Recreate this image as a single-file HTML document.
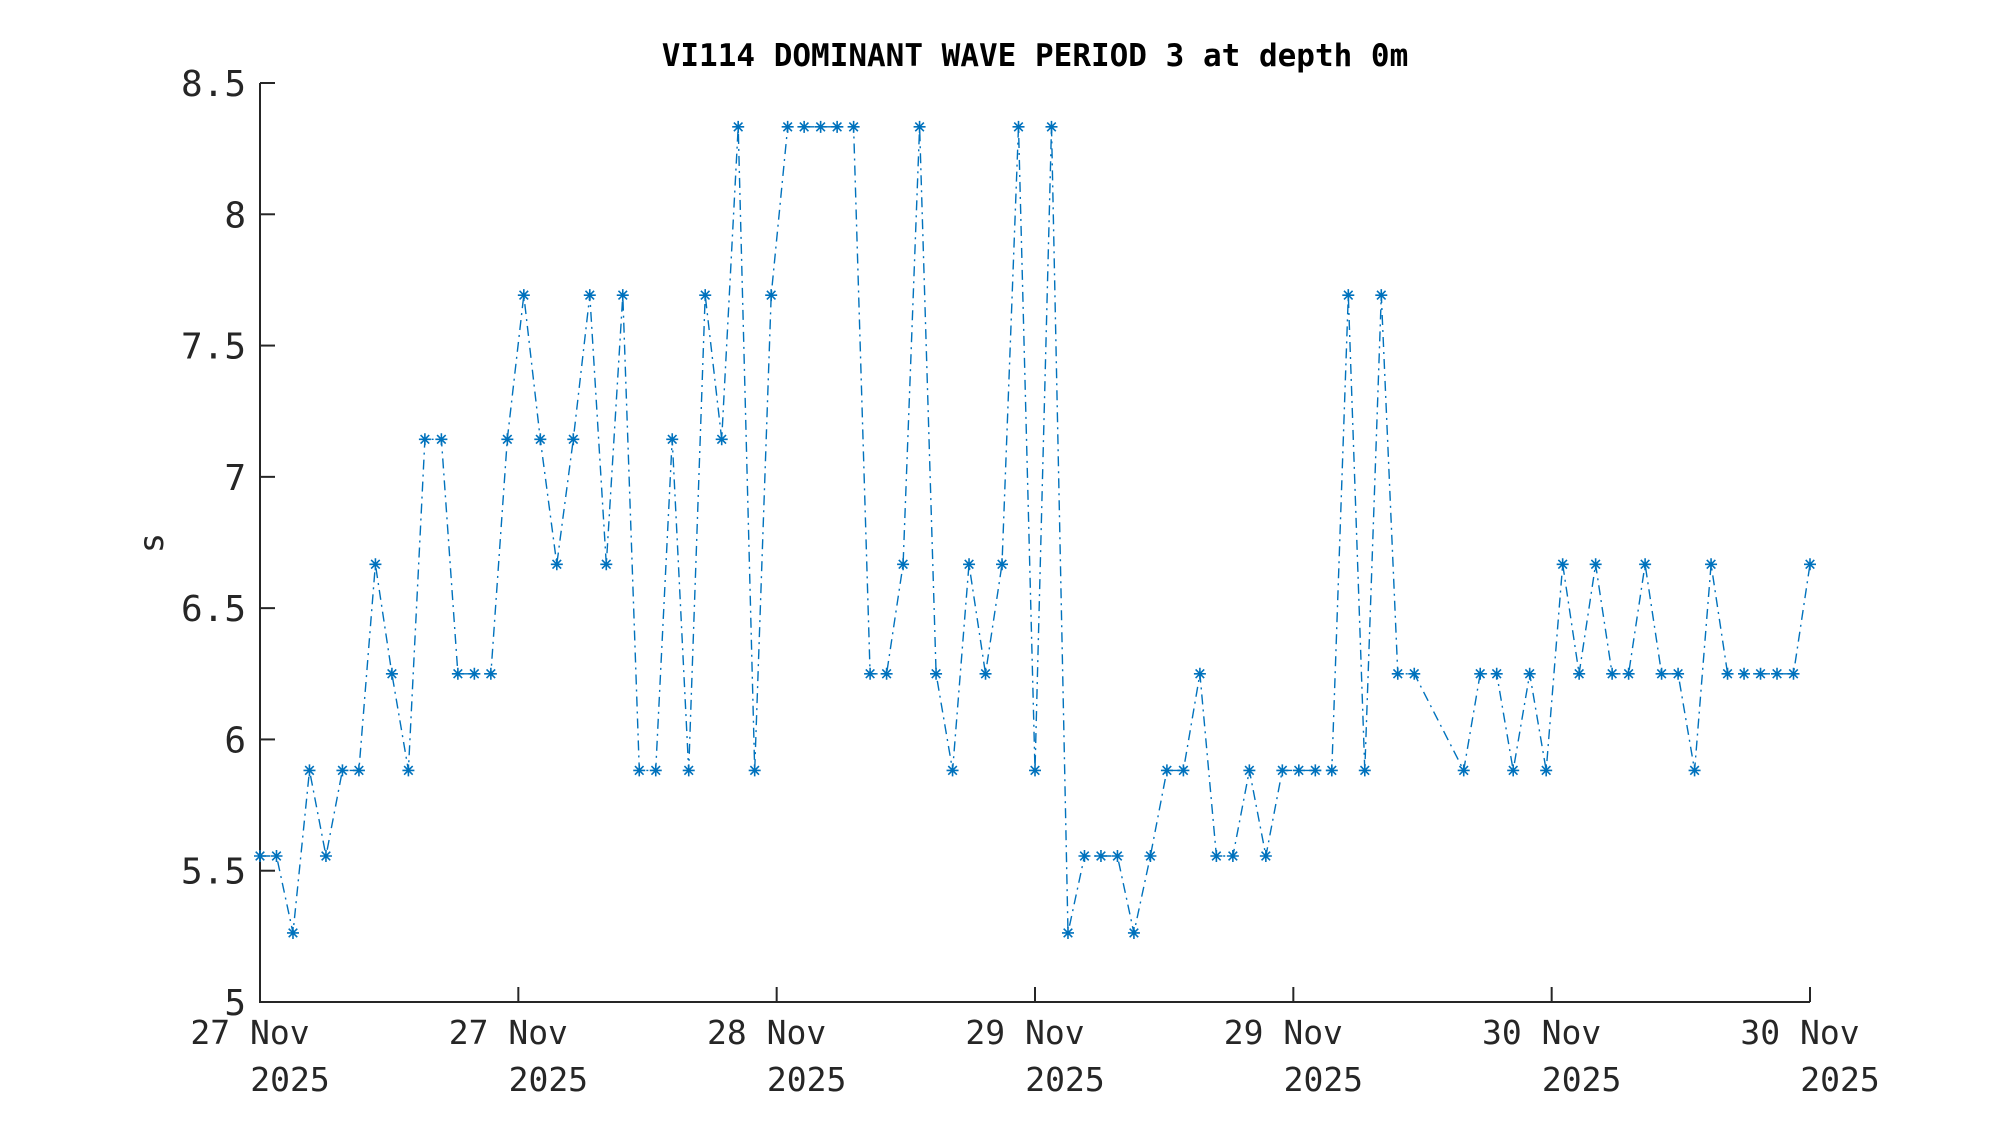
<!DOCTYPE html>
<html><head><meta charset="utf-8"><style>
html,body{margin:0;padding:0;background:#fff;}
svg{display:block;}
text{font-family:"DejaVu Sans Mono","Liberation Mono",monospace;fill:#262626;}
</style></head><body>
<svg id="s" width="2000" height="1125" viewBox="0 0 2000 1125" xmlns="http://www.w3.org/2000/svg">
<rect width="2000" height="1125" fill="#fff"/>
<text x="1035" y="66" text-anchor="middle" font-size="31" font-weight="bold" style="fill:#000">VI114 DOMINANT WAVE PERIOD 3 at depth 0m</text>
<text transform="translate(163,543) rotate(-90)" text-anchor="middle" font-size="34">s</text>
<g id="ax" stroke="#262626" stroke-width="2" fill="none"></g>
<g id="lab"></g>
<path id="ln" fill="none" stroke="#0072BD" stroke-width="1.4" stroke-dasharray="10,5,2,5"/>
<g id="mk" stroke="#0072BD" stroke-width="1.6"></g>
</svg>
<script>
var L=260,R=1810,T=83,B=1002;
function Y(v){return B-(v-5)/3.5*(B-T);}
var ns="http://www.w3.org/2000/svg";
var ax=document.getElementById('ax'),lab=document.getElementById('lab');
function el(p,t,a){var e=document.createElementNS(ns,t);for(var k in a)e.setAttribute(k,a[k]);p.appendChild(e);return e;}
el(ax,'path',{d:'M'+L+' '+T+'V'+B+'H'+R});
for(var v=5;v<=8.5001;v+=0.5){var y=Y(v);el(ax,'path',{d:'M'+L+' '+y+'h15'});
 var t=el(lab,'text',{x:246,y:y+13,'text-anchor':'end','font-size':36});t.textContent=(v%1==0?v.toFixed(0):v.toFixed(1));}
var days=['27','27','28','29','29','30','30'];
for(var i=0;i<7;i++){var x=L+i*(R-L)/6;el(ax,'path',{d:'M'+x+' '+B+'v-15'});
 var t=el(lab,'text',{x:x-10,y:1044,'text-anchor':'middle','font-size':33});t.textContent=days[i]+' Nov';
 t=el(lab,'text',{x:x+30,y:1091,'text-anchor':'middle','font-size':33});t.textContent='2025';}
var a=5.556,b=5.263,c=5.882,d=6.25,e=6.667,f=7.143,g=7.692,h=8.333;
var vals=[a,a,b,c,a,c,c,e,d,c, f,f,d,d,d,f,g,f,e,f, g,e,g,c,c,f,c,g,f,h, c,g,h,h,h,h,h,d,d,e, h,d,c,e,d,e,h,c,h,b, a,a,a,b,a,c,c,d,a,a, c,a,c,c,c,c,g,c,g,d, d,null,null, c,d,d,c,d,c,e,d,e,d, d,e,d,d,c,e,d,d,d,d, d,e];
var step=(R-L)/94,p='',mk=document.getElementById('mk');
for(var i=0;i<vals.length;i++){if(vals[i]===null)continue;var x=L+i*step,y=Y(vals[i]);
 p+=(p?'L':'M')+x.toFixed(1)+' '+y.toFixed(1);
 var r=6;el(mk,'path',{d:'M'+(x-r)+' '+y+'h'+2*r+'M'+x+' '+(y-r)+'v'+2*r+'M'+(x-4.3)+' '+(y-4.3)+'l8.6 8.6M'+(x-4.3)+' '+(y+4.3)+'l8.6 -8.6'});}
document.getElementById('ln').setAttribute('d',p);
</script>
</body></html>
